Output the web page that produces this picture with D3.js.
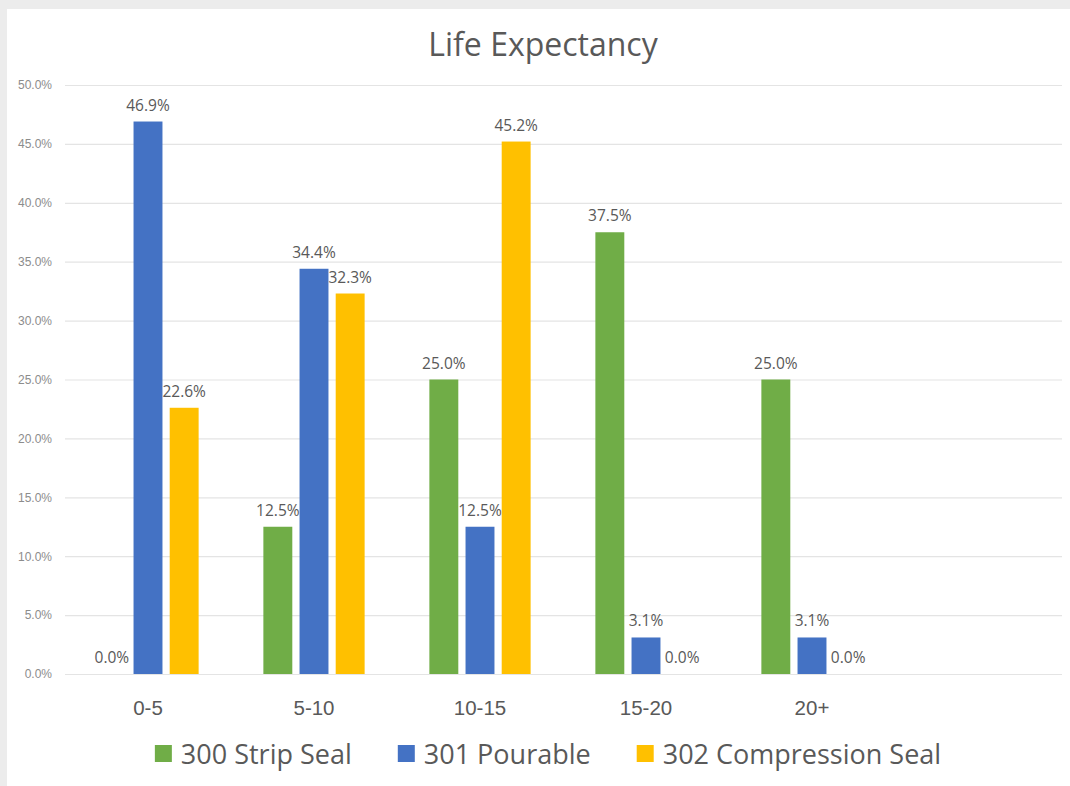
<!DOCTYPE html>
<html>
<head>
<meta charset="utf-8">
<script src="https://cdn.jsdelivr.net/npm/d3@7"></script>
<style>
  html, body { margin: 0; padding: 0; background: #ececec; }
  svg { display: block; font-family: "Open Sans", sans-serif; }
</style>
</head>
<body>
<div id="chart"></div>
<script>
'use strict';
// chart data
var title = 'Life Expectancy';
var categories = ['0-5', '5-10', '10-15', '15-20', '20+'];
var seriesNames = ['300 Strip Seal', '301 Pourable', '302 Compression Seal'];
var stripSeal = [0.0, 12.5, 25.0, 37.5, 25.0];
var pourable = [46.9, 34.4, 12.5, 3.1, 3.1];
var compressionSeal = [22.6, 32.3, 45.2, 0.0, 0.0];
var yTicks = [0, 5, 10, 15, 20, 25, 30, 35, 40, 45, 50];
var colors = ['#70AD47', '#4472C4', '#FFC000'];

var chartWidth = 1070, chartHeight = 786,
    plotLeft = 65, plotRight = 1061, plotTop = 85, plotBottom = 674,
    textColor = '#595959';

var svg = d3.select('#chart')
    .append('svg')
    .attr('width', chartWidth)
    .attr('height', chartHeight);

// white chart area inside the grey frame
svg.append('rect')
    .attr('x', 7).attr('y', 9)
    .attr('width', chartWidth - 7).attr('height', chartHeight - 9)
    .attr('fill', '#ffffff');

var series = seriesNames.map(function (name, i) {
    return { name: name, values: [stripSeal, pourable, compressionSeal][i], color: colors[i] };
});

// the source sheet leaves one empty slot after the last category
var x0 = d3.scaleBand()
    .domain(categories.concat(['']))
    .range([plotLeft, plotRight])
    .paddingInner(0.39)
    .paddingOuter(0.195);
var x1 = d3.scaleBand()
    .domain(seriesNames)
    .range([0, x0.bandwidth()])
    .paddingInner(0.2);
var y = d3.scaleLinear().domain([0, 50]).range([plotBottom, plotTop]);

// gridlines + y labels
var yAxis = d3.axisLeft(y)
    .tickValues(yTicks)
    .tickSize(-(plotRight - plotLeft + 1))
    .tickPadding(13)
    .tickFormat(function (d) { return d.toFixed(1) + '%'; });
var gy = svg.append('g')
    .attr('transform', 'translate(' + plotLeft + ',0)')
    .call(yAxis);
gy.select('.domain').remove();
gy.selectAll('.tick line').attr('stroke', '#e4e4e4').attr('stroke-width', 1.2);
gy.selectAll('.tick text')
    .attr('fill', '#8c8c8c')
    .style('font-size', '12px');

// x labels
var xAxis = d3.axisBottom(x0).tickSize(0).tickPadding(26);
var gx = svg.append('g')
    .attr('transform', 'translate(0,' + plotBottom + ')')
    .call(xAxis);
gx.select('.domain').remove();
gx.selectAll('.tick text')
    .attr('fill', textColor)
    .style('font-size', '20.5px');

// bars
var groups = svg.selectAll('g.series')
    .data(series)
    .enter().append('g')
    .attr('class', 'series');

function points(s) {
    return s.values.map(function (v, i) { return { s: s, cat: categories[i], v: v }; });
}

groups.selectAll('rect')
    .data(points)
    .enter().append('rect')
    .attr('x', function (d) { return x0(d.cat) + x1(d.s.name); })
    .attr('y', function (d) { return y(d.v); })
    .attr('width', x1.bandwidth())
    .attr('height', function (d) { return y(0) - y(d.v); })
    .attr('fill', function (d) { return d.s.color; });

groups.selectAll('text')
    .data(points)
    .enter().append('text')
    .attr('x', function (d) { return x0(d.cat) + x1(d.s.name) + x1.bandwidth() / 2; })
    .attr('y', function (d) { return y(d.v) - 11; })
    .attr('text-anchor', 'middle')
    .attr('fill', textColor)
    .style('font-size', '15.5px')
    .text(function (d) { return d.v.toFixed(1) + '%'; });

// title
svg.append('text')
    .attr('x', 543)
    .attr('y', 56)
    .attr('text-anchor', 'middle')
    .attr('fill', textColor)
    .style('font-size', '32px')
    .text(title);

// legend, centred under the plot
var legend = svg.append('g');
var pos = 0;
series.forEach(function (s) {
    var item = legend.append('g').attr('transform', 'translate(' + pos + ',0)');
    item.append('rect')
        .attr('x', 0).attr('y', -19)
        .attr('width', 17).attr('height', 17)
        .attr('fill', s.color);
    var t = item.append('text')
        .attr('x', 26).attr('y', 0)
        .attr('fill', textColor)
        .style('font-size', '27px')
        .text(s.name);
    pos += 26 + t.node().getComputedTextLength() + 46;
});
pos -= 46;
legend.attr('transform', 'translate(' + (548 - pos / 2) + ',764)');
</script>
</body>
</html>
